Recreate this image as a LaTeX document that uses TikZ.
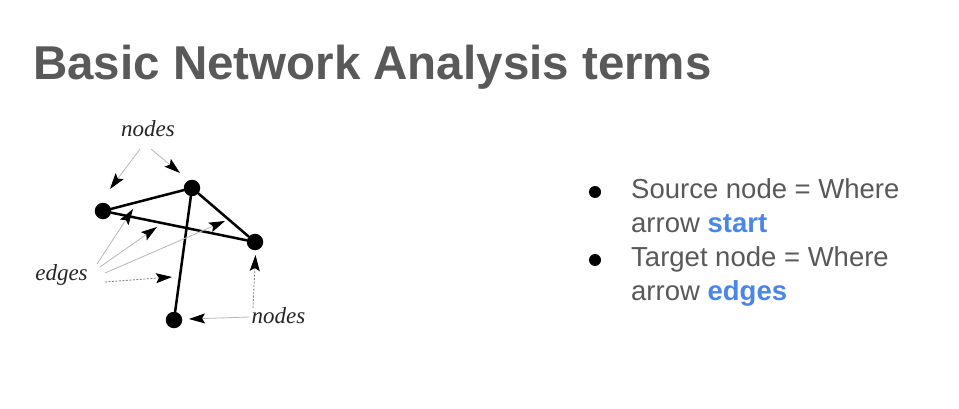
\documentclass[tikz,border=0pt]{standalone}
\usepackage{fontspec}
\newfontfamily\slidefont{Liberation Sans}
\newfontfamily\tagfont{Liberation Serif}
\usetikzlibrary{arrows.meta}
\definecolor{slidegray}{HTML}{595959}
\definecolor{slideblue}{HTML}{4A86E8}
\begin{document}
\begin{tikzpicture}[x=1pt,y=-1pt,
  vertex/.style={circle,fill=black,inner sep=0pt,minimum size=16.5pt},
  link/.style={line width=2.5pt,line cap=round},
  pointer/.style={draw=black!28,line width=0.8pt,-{Stealth[length=16pt,width=10pt,inset=3pt,color=black]}},
  dpointer/.style={pointer,draw=black!50,dash pattern=on 2pt off 1.5pt},
  tag/.style={font=\tagfont\itshape\fontsize{23}{23}\selectfont,text=black!85,inner sep=0pt},
  bulletline/.style={anchor=base west,inner sep=0pt,text=slidegray,font=\slidefont\fontsize{27.5}{33}\selectfont},
  bulletdot/.style={circle,fill=black,inner sep=0pt,minimum size=12pt}]
\useasboundingbox[fill=white] (0,0) rectangle (959,409);

% title
\node[anchor=base west,inner sep=0pt,text=slidegray,font=\slidefont\bfseries\fontsize{47.5}{50}\selectfont] (title) at (33,80) {Basic Network Analysis terms};

% network vertices
\node[vertex] (vl) at (103,211) {};
\node[vertex] (vt) at (192,188) {};
\node[vertex] (vr) at (255,242) {};
\node[vertex] (vb) at (174,320) {};

% network edges
\draw[link] (vl) -- (vt);
\draw[link] (vl) -- (vr);
\draw[link] (vt) -- (vr);
\draw[link] (vt) -- (vb);

% labels
\node[tag] (ntop) at (148,129) {nodes};
\node[tag] (nbot) at (278.5,316) {nodes};
\node[tag] (edg) at (61.5,275) {edges};

% pointer end points
\coordinate (ta1) at (140,149);
\coordinate (ha1) at (110,189);
\coordinate (ta2) at (151,149);
\coordinate (ha2) at (180,173);
\coordinate (te1) at (97,264);
\coordinate (he1) at (133,209);
\coordinate (te2) at (100,267);
\coordinate (he2) at (157,227);
\coordinate (te3) at (105,273);
\coordinate (he3) at (225,221);
\coordinate (te4) at (105,282);
\coordinate (he4) at (172,277);
\coordinate (tb1) at (253,308);
\coordinate (hb1) at (255.5,255);
\coordinate (tb2) at (249,317);
\coordinate (hb2) at (189,319);

% pointers from labels
\draw[pointer] (ta1) -- (ha1);
\draw[pointer] (ta2) -- (ha2);
\draw[pointer] (te1) -- (he1);
\draw[pointer] (te2) -- (he2);
\draw[pointer] (te3) -- (he3);
\draw[dpointer] (te4) -- (he4);
\draw[dpointer] (tb1) -- (hb1);
\draw[pointer] (tb2) -- (hb2);

% bullet list
\node[bulletdot] (b1) at (595,192) {};
\node[bulletline] (l1) at (631,198) {Source node = Where};
\node[bulletline] (l2) at (631,232) {arrow \textcolor{slideblue}{\bfseries start}};
\node[bulletdot] (b2) at (595,260) {};
\node[bulletline] (l3) at (631,266) {Target node = Where};
\node[bulletline] (l4) at (631,300) {arrow \textcolor{slideblue}{\bfseries edges}};
\end{tikzpicture}
\end{document}
